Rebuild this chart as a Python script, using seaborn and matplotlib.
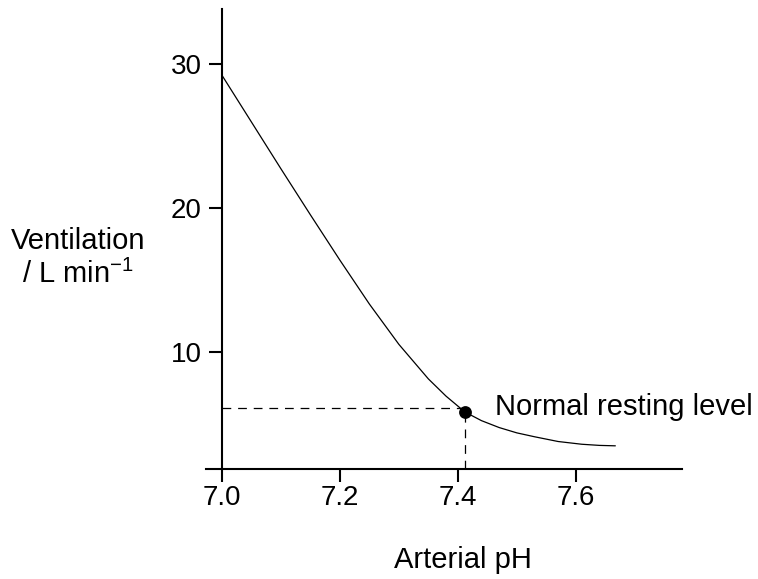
import matplotlib
matplotlib.use("Agg")
import matplotlib.pyplot as plt
import seaborn as sns
import pandas as pd

# Data
ph_values = [7.000, 7.050, 7.100, 7.150, 7.200, 7.250, 7.300, 7.350, 7.380,
             7.412, 7.440, 7.470, 7.500, 7.530, 7.570, 7.610, 7.640, 7.667]
ventilation = [29.2, 25.95, 22.7, 19.5, 16.35, 13.3, 10.5, 8.1, 6.9,
               5.8, 5.2, 4.72, 4.35, 4.08, 3.75, 3.56, 3.48, 3.45]
normal_ph = 7.412
normal_vent = 5.8
normal_dash_level = 6.06
x_ticks = [7.0, 7.2, 7.4, 7.6]
x_tick_labels = ["7.0", "7.2", "7.4", "7.6"]
y_ticks = [10, 20, 30]
y_tick_labels = ["10", "20", "30"]
annotation = "Normal resting level"
x_label = "Arterial pH"
y_label = "Ventilation\n/ L min$^{\u2212 1}$"

sns.set_theme(style="white")
plt.rcParams["font.family"] = ["Liberation Sans", "DejaVu Sans"]
plt.rcParams["mathtext.fontset"] = "custom"
plt.rcParams["mathtext.rm"] = "Liberation Sans"
plt.rcParams["mathtext.it"] = "Liberation Sans"
plt.rcParams["mathtext.bf"] = "Liberation Sans"

W, H = 758, 579
fig = plt.figure(figsize=(W / 100, H / 100), dpi=100)
ax = fig.add_axes([206 / W, 1 - 469 / H, (682 - 206) / W, (469 - 9) / H])

df = pd.DataFrame({"pH": ph_values, "vent": ventilation})
sns.lineplot(data=df, x="pH", y="vent", ax=ax, color="black", linewidth=0.9,
             sort=False, estimator=None)

x_lo, x_hi = 6.973, 7.78
y_lo, y_hi = 1.84, 33.8

# dashed reference lines
dash = (0, (7.0, 5.5))
ax.plot([7.0, normal_ph], [normal_dash_level, normal_dash_level], color="black",
        linewidth=0.9, linestyle=dash)
ax.plot([normal_ph, normal_ph], [y_lo, normal_vent], color="black",
        linewidth=0.9, linestyle=dash)

sns.scatterplot(x=[normal_ph], y=[normal_vent], ax=ax, color="black", s=85,
                edgecolor="black", linewidth=0, zorder=5)

ax.text(7.463, 5.6, annotation, fontsize=21, ha="left", va="baseline", color="black")

ax.set_xlim(x_lo, x_hi)
ax.set_ylim(y_lo, y_hi)
ax.set_xticks(x_ticks)
ax.set_xticklabels(x_tick_labels)
ax.set_yticks(y_ticks)
ax.set_yticklabels(y_tick_labels)

for s in ["top", "right"]:
    ax.spines[s].set_visible(False)
ax.spines["left"].set_position(("data", 7.0))
for s in ["left", "bottom"]:
    ax.spines[s].set_color("black")
    ax.spines[s].set_linewidth(1.5)

ax.tick_params(axis="both", direction="out", length=9.4, width=1.5, colors="black",
               labelsize=20, left=True, bottom=True)
ax.tick_params(axis="x", pad=2)
ax.tick_params(axis="y", pad=5)

ax.set_xlabel(x_label, fontsize=21, color="black", va="baseline")
ax.xaxis.set_label_coords((463 - 206) / 476, -(568 - 469) / 460)
ax.set_ylabel(y_label, fontsize=21, color="black", rotation=0, ha="center",
              va="center", multialignment="center")
ax.yaxis.set_label_coords((78 - 206) / 476, (469 - 258) / 460)

ax.set_facecolor("white")
fig.patch.set_facecolor("white")
fig.savefig("out.png", dpi=100)
